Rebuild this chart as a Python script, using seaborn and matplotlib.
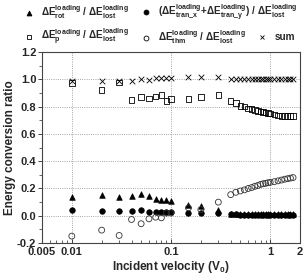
import matplotlib
matplotlib.use("Agg")
import matplotlib.pyplot as plt
from matplotlib.ticker import LogLocator, MultipleLocator, NullFormatter
import seaborn as sns

# incident velocity (V0)
velocity = [0.01, 0.02, 0.03, 0.04, 0.05, 0.06, 0.07, 0.08, 0.09, 0.1, 0.15, 0.2, 0.3,
            0.4, 0.45, 0.5, 0.55, 0.6, 0.65, 0.7, 0.75, 0.8, 0.85, 0.9, 0.95, 1.0,
            1.1, 1.2, 1.3, 1.4, 1.5, 1.6, 1.7]

rot = [0.138, 0.15, 0.138, 0.148, 0.162, 0.143, 0.12, 0.115, 0.115, 0.112, 0.08, 0.073, 0.04,
       0.016, 0.016, 0.015, 0.015, 0.015, 0.015, 0.015, 0.014, 0.014, 0.014, 0.014, 0.013, 0.013,
       0.013, 0.013, 0.012, 0.012, 0.012, 0.012, 0.012]
tran = [0.04, 0.035, 0.034, 0.034, 0.039, 0.03, 0.03, 0.03, 0.03, 0.03, 0.022, 0.02, 0.02,
        0.01, 0.01, 0.009, 0.009, 0.009, 0.008, 0.008, 0.008, 0.008, 0.007, 0.007, 0.007, 0.007,
        0.006, 0.006, 0.006, 0.006, 0.005, 0.005, 0.005]
p = [0.972, 0.92, 0.975, 0.847, 0.869, 0.858, 0.873, 0.885, 0.842, 0.856, 0.854, 0.869, 0.883,
     0.841, 0.825, 0.806, 0.8, 0.786, 0.783, 0.776, 0.769, 0.764, 0.76, 0.758, 0.752, 0.75,
     0.742, 0.736, 0.733, 0.731, 0.73, 0.73, 0.73]
thm = [-0.149, -0.105, -0.144, -0.027, -0.058, -0.022, -0.01, -0.015, 0.02, 0.02, 0.058, 0.045, 0.1,
       0.155, 0.172, 0.182, 0.19, 0.2, 0.207, 0.216, 0.222, 0.23, 0.235, 0.238, 0.242, 0.245,
       0.25, 0.256, 0.262, 0.268, 0.272, 0.276, 0.28]
total = [0.985, 0.99, 0.99, 0.99, 1.0, 0.998, 1.012, 1.012, 1.012, 1.012, 1.015, 1.018, 1.018,
         1.005, 1.005, 1.005, 1.005, 1.005, 1.005, 1.005, 1.005, 1.005, 1.005, 1.005, 1.005, 1.005,
         1.005, 1.005, 1.005, 1.005, 1.005, 1.005, 1.005]

xticks = [0.005, 0.01, 0.1, 1, 2]
xticklabels = ["0.005", "0.01", "0.1", "1", "2"]

sns.set_style("ticks")
plt.rcParams["font.family"] = ["Liberation Sans", "DejaVu Sans"]
plt.rcParams["font.weight"] = "bold"
plt.rcParams["mathtext.fontset"] = "custom"
plt.rcParams["mathtext.rm"] = "Liberation Sans:bold"
plt.rcParams["mathtext.bf"] = "Liberation Sans:bold"
plt.rcParams["mathtext.it"] = "Liberation Sans:bold"
plt.rcParams["mathtext.default"] = "bf"

fig = plt.figure(figsize=(3.04, 2.75), dpi=100)
ax = fig.add_axes([0.138, 0.116, 0.849, 0.695])

ms = 16
sns.scatterplot(x=velocity, y=rot, marker="^", s=ms, color="black", edgecolor="black",
                linewidth=0.5, ax=ax)
sns.scatterplot(x=velocity, y=tran, marker="o", s=ms, color="black", edgecolor="black",
                linewidth=0.5, ax=ax)
ax.scatter(velocity, p, marker="s", s=ms, facecolors="none", edgecolors="black", linewidths=0.6)
ax.scatter(velocity, thm, marker="o", s=ms + 2, facecolors="none", edgecolors="#333333", linewidths=0.6)
ax.scatter(velocity, total, marker="x", s=ms, color="black", linewidths=0.6)

ax.set_xscale("log")
ax.set_xlim(0.005, 2)
ax.set_ylim(-0.2, 1.2)
ax.set_xticks(xticks)
ax.set_xticklabels(xticklabels)
ax.xaxis.set_minor_locator(LogLocator(base=10, subs=range(2, 10)))
ax.xaxis.set_minor_formatter(NullFormatter())
ax.yaxis.set_major_locator(MultipleLocator(0.2))
ax.yaxis.set_minor_locator(MultipleLocator(0.1))
ax.set_yticklabels([f"{t:.1f}" for t in ax.get_yticks()])

ax.tick_params(axis="x", which="both", direction="in", labelsize=8, pad=3)
ax.tick_params(axis="x", which="major", length=3, width=0.6)
ax.tick_params(axis="x", which="minor", length=2, width=0.5)
ax.tick_params(axis="y", which="both", direction="out", labelsize=8, pad=1)
ax.tick_params(axis="y", which="major", length=3, width=0.6)
ax.tick_params(axis="y", which="minor", length=2, width=0.5)
for s in ax.spines.values():
    s.set_linewidth(0.8)
    s.set_color("#444444")

ax.grid(True, which="major", linestyle=":", color="#888888", linewidth=0.6)
ax.set_xlabel("Incident velocity (V$_0$)", fontsize=8.5, fontweight="bold", labelpad=1)
ax.set_ylabel("Energy conversion ratio", fontsize=8.5, fontweight="bold", labelpad=1)

# legend entries placed above the axes
lost = r"$\Delta$E$^{loading}_{lost}$"
entries = [
    ("^", "black", r"$\Delta$E$^{loading}_{rot}$ / " + lost, 0.085, 0.955),
    ("o", "black", r"($\Delta$E$^{loading}_{tran\_x}$+$\Delta$E$^{loading}_{tran\_y}$) / " + lost, 0.472, 0.955),
    ("s", "none", r"$\Delta$E$^{loading}_{p}$ / " + lost, 0.085, 0.865),
    ("o", "none", r"$\Delta$E$^{loading}_{thm}$ / " + lost, 0.472, 0.865),
    ("x", "black", "sum", 0.853, 0.865),
]
for mk, fc, lab, x0, y0 in entries:
    h = plt.Line2D([], [], linestyle="none", marker=mk, markersize=3.5,
                   markerfacecolor=fc, markeredgecolor="black", markeredgewidth=0.6)
    fig.legend(handles=[h], labels=[lab], loc="center left", bbox_to_anchor=(x0, y0),
               frameon=False, fontsize=7.2, handlelength=0.6, handletextpad=0.9,
               borderpad=0, borderaxespad=0)

fig.savefig("out.png", dpi=100)
